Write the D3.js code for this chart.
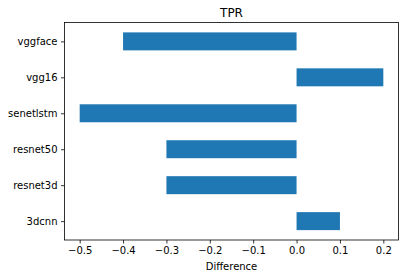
<!DOCTYPE html>
<html>
<head>
<meta charset="utf-8">
<script src="https://cdn.jsdelivr.net/npm/d3@7"></script>
<style>
body { margin: 0; background: #fff; }
text { font-family: "DejaVu Sans", sans-serif; }
</style>
</head>
<body>
<div id="chart"></div>
<script>
// categories bottom to top, as matplotlib barh draws them
const models = ['3dcnn', 'resnet3d', 'resnet50', 'senetlstm', 'vgg16', 'vggface']
const diffs = [0.1, -0.3, -0.3, -0.5, 0.2, -0.4]
const xTicks = [-0.5, -0.4, -0.3, -0.2, -0.1, 0.0, 0.1, 0.2]

const width = 405
const height = 278
const mLeft = 64.5, mRight = 398.5, mTop = 22.5, mBottom = 240

const svg = d3.select('#chart')
	.append('svg')
	.attr('width', width)
	.attr('height', height)

let xScale = d3.scaleLinear()
	.domain([-0.535, 0.235])
	.range([mLeft, mRight])

let yScale = d3.scaleLinear()
	.domain([-0.525, 5.525])
	.range([mBottom, mTop])

let barH = yScale(0) - yScale(0.5)

svg.selectAll('.bar')
	.data(models)
	.enter()
	.append('rect')
	.attr('class', 'bar')
	.attr('x', (d, i) => xScale(Math.min(0, diffs[i])))
	.attr('width', (d, i) => Math.abs(xScale(diffs[i]) - xScale(0)))
	.attr('y', (d, i) => yScale(i) - barH / 2)
	.attr('height', barH)
	.attr('fill', '#1f77b4')

let xAxis = d3.axisBottom(xScale)
	.tickValues(xTicks)
	.tickFormat(d => d3.format('.1f')(d).replace('-', '\u2212'))
	.tickSizeOuter(0)
	.tickSize(3.5)
	.tickPadding(3.5)

let yAxis = d3.axisLeft(yScale)
	.tickValues(d3.range(models.length))
	.tickFormat(i => models[i])
	.tickSizeOuter(0)
	.tickSize(3.5)
	.tickPadding(3.5)

let gx = svg.append('g')
	.attr('transform', 'translate(0,' + mBottom + ')')
	.call(xAxis)

let gy = svg.append('g')
	.attr('transform', 'translate(' + mLeft + ',0)')
	.call(yAxis)

;[gx, gy].forEach(function(g){
	g.select('.domain').remove()
	g.selectAll('line').attr('stroke', '#000').attr('stroke-width', 0.8)
	g.selectAll('text').attr('font-size', 10).attr('fill', '#000')
		.style('font-family', '"DejaVu Sans", sans-serif')
})

// frame
svg.append('rect')
	.attr('x', mLeft)
	.attr('y', mTop)
	.attr('width', mRight - mLeft)
	.attr('height', mBottom - mTop)
	.attr('fill', 'none')
	.attr('stroke', '#000')
	.attr('stroke-width', 0.8)

svg.append('text')
	.attr('x', (mLeft + mRight) / 2)
	.attr('y', mTop - 6)
	.attr('text-anchor', 'middle')
	.attr('font-size', 12)
	.text('TPR')

svg.append('text')
	.attr('x', (mLeft + mRight) / 2)
	.attr('y', 270)
	.attr('text-anchor', 'middle')
	.attr('font-size', 10)
	.text('Difference')
</script>
</body>
</html>
